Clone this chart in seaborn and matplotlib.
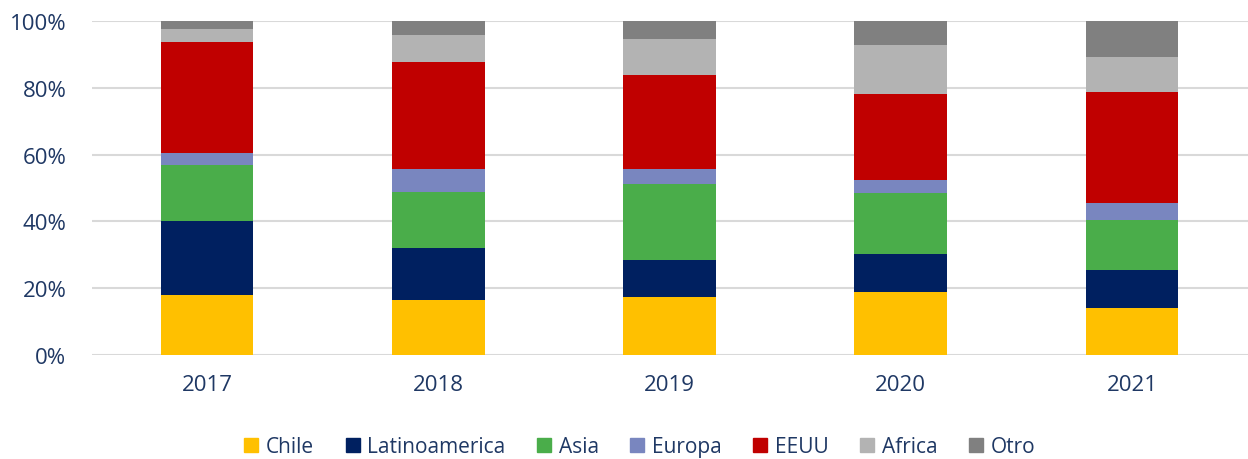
import numpy as np
import pandas as pd
import matplotlib
matplotlib.use("Agg")
import matplotlib.pyplot as plt
from matplotlib.lines import Line2D
from matplotlib.ticker import FuncFormatter
import seaborn as sns

# Share (%) of each origin per year
years = ["2017", "2018", "2019", "2020", "2021"]
chile = [18.0, 16.6, 17.4, 18.8, 14.2]
latinoamerica = [22.1, 15.4, 11.0, 11.3, 11.2]
asia = [16.9, 16.8, 22.9, 18.3, 15.0]
europa = [3.6, 7.0, 4.3, 3.9, 5.0]
eeuu = [33.2, 32.0, 28.3, 25.7, 33.3]
africa = [3.8, 8.0, 10.6, 14.9, 10.6]
otro = [2.4, 4.2, 5.5, 7.1, 10.7]

series_names = ["Chile", "Latinoamerica", "Asia", "Europa", "EEUU", "Africa", "Otro"]
series_values = [chile, latinoamerica, asia, europa, eeuu, africa, otro]
colors = ["#FFC000", "#002060", "#4AAD4A", "#7986BF", "#C00000", "#B3B3B3", "#808080"]
text_color = "#1F3864"

sns.set_theme(style="white")
plt.rcParams["font.family"] = ["Open Sans", "DejaVu Sans"]

fig = plt.figure(figsize=(12.48, 4.6), dpi=100)
ax = fig.add_axes([91.5 / 1248, 1 - 356 / 460, 1156 / 1248, 334 / 460])

bottom = np.zeros(len(years))
for name, vals, col in zip(series_names, series_values, colors):
    df = pd.DataFrame({"year": years, "share": vals})
    sns.barplot(data=df, x="year", y="share", color=col, width=0.4,
                bottom=bottom.copy(), ax=ax, errorbar=None,
                saturation=1, linewidth=0, zorder=3)
    bottom += np.array(vals)

ax.set_xlim(-0.5, len(years) - 0.5)
ax.set_ylim(0, 100)
ax.set_yticks(np.arange(0, 101, 20))
ax.yaxis.set_major_formatter(FuncFormatter(lambda v, p: f"{v:.0f}%"))
ax.grid(axis="y", color="#D9D9D9", linewidth=1.5, zorder=0)
ax.grid(axis="x", visible=False)
for s in ax.spines.values():
    s.set_visible(False)
ax.tick_params(axis="both", length=0, labelsize=16, colors=text_color)
ax.tick_params(axis="y", pad=18)
ax.tick_params(axis="x", pad=14)
ax.set_xlabel("")
ax.set_ylabel("")

handles = [Line2D([0], [0], marker="s", linestyle="none", markersize=9.5,
                  markerfacecolor=c, markeredgecolor=c) for c in colors]
leg = fig.legend(handles, series_names, loc="center", ncol=len(series_names),
                 bbox_to_anchor=(0.512, 1 - 448 / 460), frameon=False,
                 fontsize=15, handlelength=0.8, handletextpad=0.3,
                 columnspacing=1.45)
for t in leg.get_texts():
    t.set_color(text_color)

fig.savefig("out.png", dpi=100)
